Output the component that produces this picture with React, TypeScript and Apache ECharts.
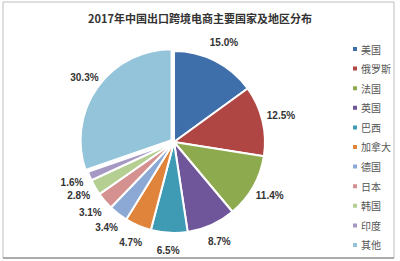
import React, { useEffect, useRef } from "react";
import * as echarts from "echarts";

const titleText = "2017年中国出口跨境电商主要国家及地区分布";
const categories = ["美国", "俄罗斯", "法国", "英国", "巴西", "加拿大", "德国", "日本", "韩国", "印度", "其他"];
const shares = [15.0, 12.5, 11.4, 8.7, 6.5, 4.7, 3.4, 3.1, 2.8, 1.6, 30.3];
const colors = [
  "#3F6FAB", "#B04643", "#8DAA4E", "#6F569A", "#3F9AB4", "#E0843B",
  "#8CA9D6", "#D49190", "#B5CF93", "#A598C3", "#93C4DA",
];

export default function App() {
  const ref = useRef<HTMLDivElement>(null);
  useEffect(() => {
    if (!ref.current) return;
    const chart = echarts.init(ref.current, null, { renderer: "svg" });
    const data = categories.map((name, i) => ({
      name,
      value: shares[i],
      itemStyle: { color: colors[i] },
      selected: name === "其他",
    }));
    chart.setOption({
      animation: false,
      backgroundColor: "#ffffff",
      title: {
        text: titleText,
        left: "center",
        top: 7,
        textStyle: {
          fontFamily: "Noto Sans CJK SC",
          fontSize: 11,
          fontWeight: "bold",
          color: "#333333",
        },
      },
      legend: {
        orient: "vertical",
        left: 346,
        top: 39,
        icon: "rect",
        itemWidth: 6,
        itemHeight: 6,
        itemGap: 9.6,
        data: categories,
        selectedMode: false,
        textStyle: {
          fontFamily: "Noto Sans CJK SC",
          fontSize: 10,
          color: "#555555",
          padding: [0, 0, 0, -2],
        },
      },
      graphic: [
        {
          type: "rect",
          shape: { x: 3, y: 2, width: 391, height: 256 },
          style: { fill: "none", stroke: "#bdbdbd", lineWidth: 1 },
          silent: true,
        },
        {
          type: "line",
          shape: { x1: 3, y1: 258, x2: 394, y2: 258 },
          style: { stroke: "#9a9a9a", lineWidth: 1.5 },
          silent: true,
        },
      ],
      series: [
        {
          type: "pie",
          center: [174, 142],
          radius: [0, 91],
          startAngle: 90,
          clockwise: true,
          selectedMode: "single",
          selectedOffset: 3,
          silent: true,
          itemStyle: { borderColor: "#ffffff", borderWidth: 2 },
          label: { show: false },
          labelLine: { show: false },
          data,
        },
        {
          type: "pie",
          center: [174, 141],
          radius: [97, 117],
          startAngle: 90,
          clockwise: true,
          silent: true,
          itemStyle: { color: "rgba(0,0,0,0)" },
          label: {
            show: true,
            position: "inside",
            fontFamily: "Liberation Sans",
            fontSize: 10,
            fontWeight: "bold",
            color: "#333333",
            formatter: (p: any) => Number(p.value).toFixed(1) + "%",
          },
          labelLine: { show: false },
          data: categories.map((name, i) => ({ name, value: shares[i] })),
        },
      ],
    });
    return () => chart.dispose();
  }, []);
  return (
    <div
      ref={ref}
      style={{ position: "fixed", left: 0, top: 0, width: 400, height: 261 }}
    />
  );
}
